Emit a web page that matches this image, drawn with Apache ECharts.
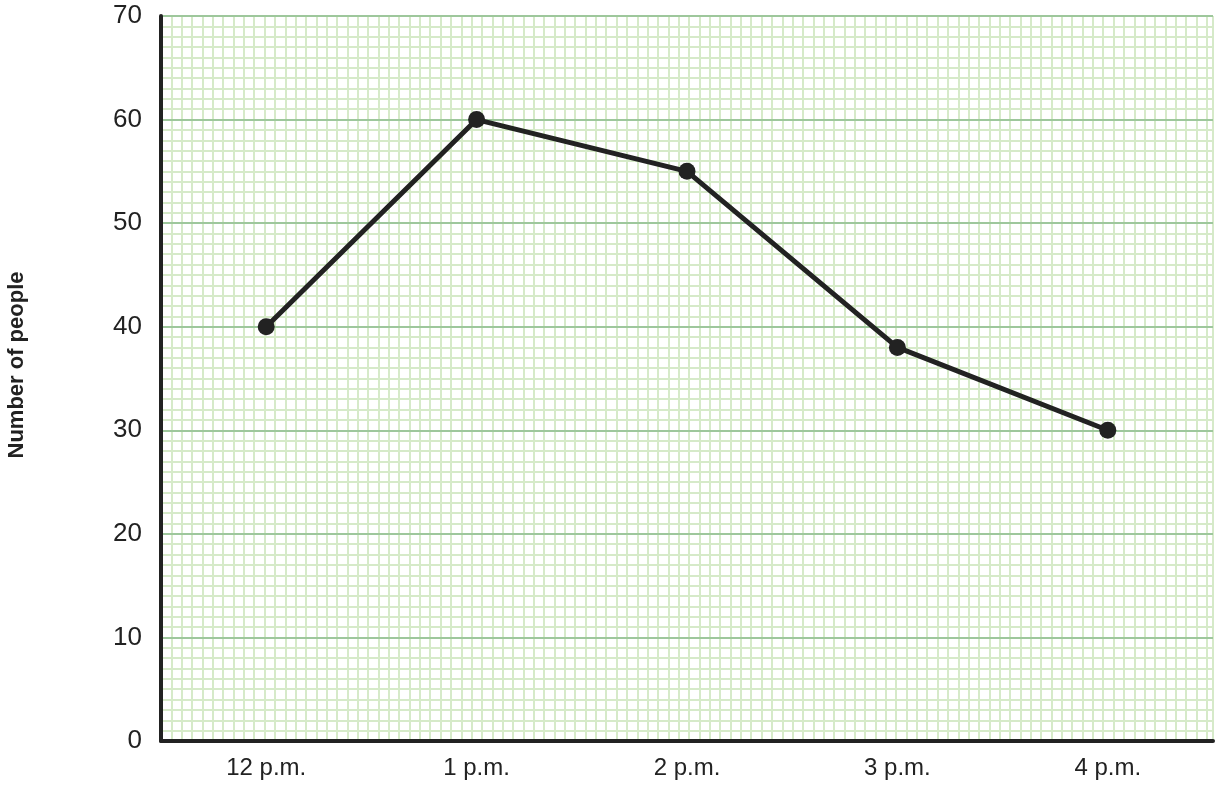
<!DOCTYPE html>
<html><head><meta charset="utf-8">
<script src="https://cdn.jsdelivr.net/npm/echarts@6/dist/echarts.min.js"></script>
<style>html,body{margin:0;padding:0;background:#fff}#c{width:1220px;height:791px}</style>
</head><body><div id="c"></div>
<script>
const categories = ['12 p.m.', '1 p.m.', '2 p.m.', '3 p.m.', '4 p.m.'];
const people = [40, 60, 55, 38, 30];
const yTicks = [0, 10, 20, 30, 40, 50, 60, 70];
const yTitle = 'Number of people';

const chart = echarts.init(document.getElementById('c'), null, {renderer: 'canvas'});
const font = '"Liberation Sans", Arial, sans-serif';
chart.setOption({
  animation: false,
  grid: {left: 161, right: 7, top: 16, bottom: 50, containLabel: false, outerBoundsMode: 'none'},
  graphic: [{
    type: 'text', x: 17, y: 365, rotation: Math.PI / 2,
    style: {text: yTitle, fill: '#222', font: 'bold 22px ' + font, align: 'center', verticalAlign: 'middle'}
  }],
  xAxis: [
    {
      type: 'category', data: categories, boundaryGap: true,
      axisLine: {show: true, lineStyle: {color: '#222', width: 4}},
      axisTick: {show: false},
      axisLabel: {color: '#222', fontSize: 24, fontFamily: font, margin: 15},
      splitLine: {show: false}, z: 10
    },
    {
      type: 'value', min: 0, max: 101.6, interval: 1, show: true, position: 'bottom',
      axisLine: {show: false}, axisTick: {show: false}, axisLabel: {show: false},
      splitLine: {show: true, lineStyle: {color: '#d6eac9', width: 2}}
    }
  ],
  yAxis: {
    type: 'value', min: yTicks[0], max: yTicks[yTicks.length - 1], interval: 10,
    axisLine: {show: true, lineStyle: {color: '#222', width: 4}},
    axisTick: {show: false},
    axisLabel: {color: '#222', fontSize: 26, fontFamily: font, margin: 19},
    splitLine: {show: true, lineStyle: {color: '#9ec79c', width: 2}},
    minorTick: {show: false, splitNumber: 10},
    minorSplitLine: {show: true, lineStyle: {color: '#d6eac9', width: 2}},
    z: 10
  },
  series: [{
    type: 'line', xAxisIndex: 0, data: people,
    symbol: 'circle', symbolSize: 17,
    lineStyle: {color: '#222', width: 5},
    itemStyle: {color: '#222'}, z: 20
  }]
});
</script></body></html>
